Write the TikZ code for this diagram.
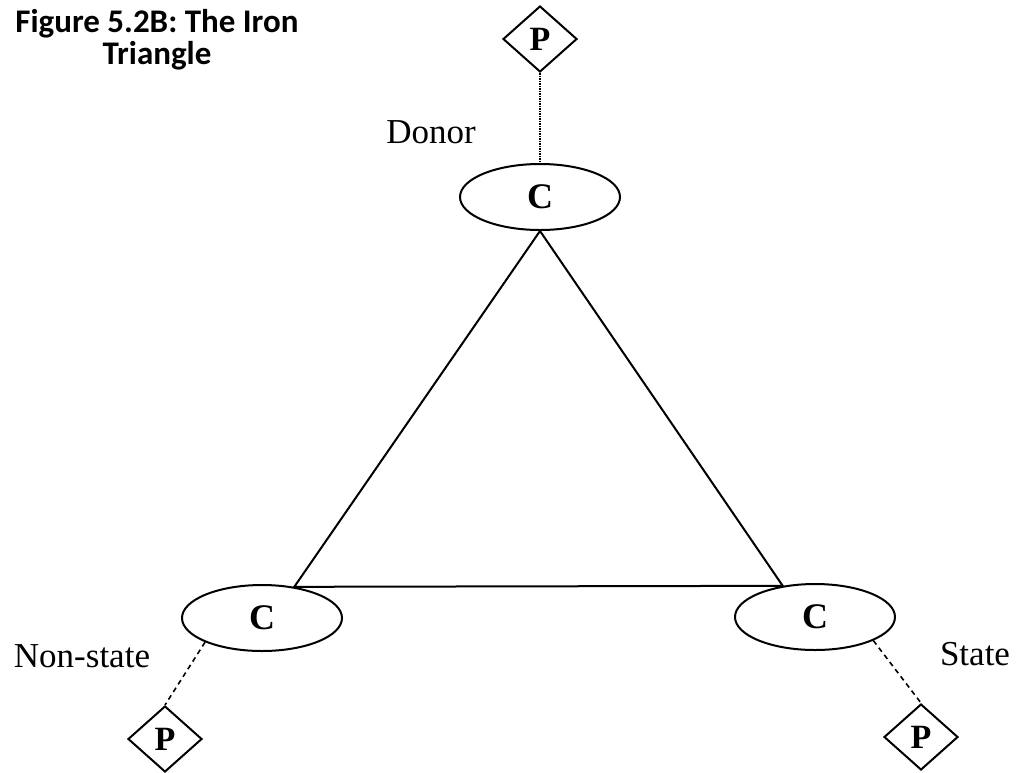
\documentclass[tikz,border=0pt]{standalone}
\usepackage{fontspec}
\setmainfont{Liberation Serif}
\newfontfamily\titlefont{Carlito}
\usetikzlibrary{shapes.geometric}
\begin{document}
\begin{tikzpicture}[x=1pt,y=-1pt,
  cnode/.style={draw,ellipse,line width=2pt,minimum width=160pt,minimum height=66pt,inner sep=0pt,font=\fontsize{36}{36}\selectfont\bfseries},
  pnode/.style={draw,diamond,line width=2pt,minimum width=74pt,minimum height=66pt,inner sep=0pt,font=\fontsize{34}{34}\selectfont\bfseries},
  lbl/.style={font=\fontsize{35}{35}\selectfont,inner sep=0pt},
  ttl/.style={anchor=base,inner sep=0pt,font=\titlefont\fontsize{33}{33}\selectfont\bfseries},
  tri/.style={line width=2pt},
  dotline/.style={line width=1.8pt,dash pattern=on 1.5pt off 1pt},
  dashline/.style={line width=1.6pt,dash pattern=on 5pt off 4pt}]
\useasboundingbox (0,0) rectangle (1017,772);
\node[cnode] (top) at (540,197) {C};
\node[cnode] (bl) at (262,618) {C};
\node[cnode] (br) at (815,617) {C};
\node[pnode] (tp) at (540,39) {P};
\node[pnode] (blp) at (165,739) {P};
\node[pnode] (brp) at (921,737) {P};
\draw[tri] (top.south) -- (bl.44) -- (br.136) -- (top.south);
\draw[dotline] (tp.south) -- (top.north);
\draw[dashline] (bl.203) -- (blp.north);
\draw[dashline] (br.338) -- (brp.north);
\node[lbl] (donor) at (431,132) {Donor};
\node[lbl] (ns) at (82,656) {Non-state};
\node[lbl] (st) at (975,654) {State};
\node[ttl] (title1) at (157,32) {Figure 5.2B: The Iron};
\node[ttl] (title2) at (157,64) {Triangle};
\end{tikzpicture}
\end{document}
